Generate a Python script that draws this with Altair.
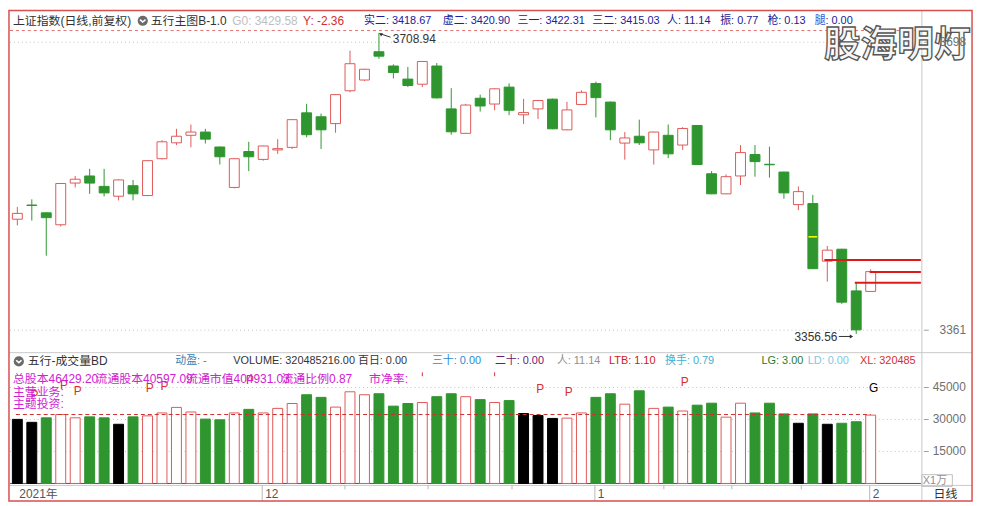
import altair as alt
import pandas as pd

# ---------------- data ----------------
open_price = [3490.9, 3507.5, 3498.4, 3484.4, 3533.2, 3541.5, 3529.3, 3517.8, 3530.1, 3518.6,
              3561.7, 3580.3, 3589.1, 3592.9, 3575.4, 3528.1, 3570.1, 3560.9, 3572.0, 3575.0,
              3615.4, 3610.8, 3602.8, 3641.2, 3653.8, 3686.9, 3670.2, 3654.9, 3648.9, 3670.2,
              3620.0, 3591.4, 3632.5, 3625.7, 3645.5, 3613.1, 3620.0, 3631.4, 3595.5, 3625.2,
              3649.7, 3628.0, 3580.0, 3588.0, 3572.0, 3589.1, 3577.7, 3600.6, 3544.1, 3520.6,
              3541.5, 3566.6, 3555.2, 3546.1, 3508.0, 3509.2, 3441.8, 3455.8, 3407.0, 3406.4]
close_price = [3497.7, 3507.0, 3492.7, 3532.7, 3537.7, 3533.2, 3521.7, 3536.9, 3520.6, 3559.4,
               3581.5, 3588.0, 3592.9, 3584.6, 3564.0, 3561.7, 3564.0, 3576.6, 3573.5, 3607.4,
               3589.8, 3595.5, 3636.7, 3672.9, 3666.4, 3681.7, 3662.6, 3647.4, 3675.5, 3632.9,
               3593.2, 3624.5, 3623.4, 3643.5, 3618.4, 3615.7, 3629.8, 3596.7, 3618.8, 3639.4,
               3633.2, 3595.5, 3586.0, 3580.3, 3592.9, 3567.4, 3597.1, 3554.9, 3520.6, 3540.7,
               3568.9, 3558.3, 3554.6, 3521.7, 3523.2, 3433.0, 3454.7, 3393.8, 3361.4, 3429.6]
high_price = [3505.3, 3514.1, 3498.9, 3533.3, 3541.5, 3549.8, 3549.8, 3537.5, 3536.9, 3560.0,
              3583.4, 3596.7, 3601.7, 3596.7, 3576.0, 3562.2, 3581.5, 3577.0, 3584.6, 3608.0,
              3626.0, 3614.6, 3637.3, 3688.1, 3667.0, 3708.94, 3672.1, 3669.1, 3676.0, 3673.7,
              3644.3, 3626.0, 3636.7, 3644.0, 3650.0, 3631.7, 3630.3, 3632.0, 3628.3, 3641.7,
              3652.0, 3628.5, 3592.9, 3607.4, 3593.3, 3601.7, 3598.6, 3601.1, 3547.2, 3543.4,
              3577.7, 3577.7, 3575.8, 3546.5, 3529.3, 3519.4, 3459.6, 3456.2, 3416.6, 3432.2]
low_price = [3483.6, 3489.3, 3448.2, 3482.4, 3528.1, 3520.6, 3517.5, 3512.9, 3512.9, 3517.8,
             3561.0, 3577.7, 3575.0, 3579.5, 3554.9, 3527.0, 3547.2, 3559.4, 3567.4, 3573.1,
             3586.8, 3573.1, 3592.1, 3639.4, 3652.7, 3678.6, 3655.7, 3645.5, 3645.5, 3632.1,
             3589.8, 3590.9, 3616.9, 3618.4, 3612.7, 3602.4, 3608.1, 3596.2, 3595.0, 3624.8,
             3610.0, 3583.4, 3560.6, 3577.7, 3554.9, 3562.4, 3572.0, 3554.5, 3520.2, 3520.2,
             3530.9, 3540.7, 3539.6, 3514.9, 3501.5, 3432.5, 3417.8, 3391.8, 3356.56, 3406.0]
volume_wan = [30050, 28670, 30780, 32330, 30780, 31240, 30780, 27760, 31240, 31700,
              33070, 35670, 33520, 30180, 29860, 33070, 34750, 33070, 35210, 37500,
              41610, 40380, 35810, 42990, 41610, 42070, 36260, 37500, 37960, 40700,
              42070, 40700, 39330, 37960, 38870, 32790, 31870, 30500, 30640, 33070,
              40380, 42070, 37180, 43440, 35210, 35810, 33980, 36720, 37640, 31100,
              37640, 33070, 37640, 32610, 28220, 32610, 27760, 28220, 28950, 32049]
low_volume_days = [0, 1, 7, 35, 36, 37, 54, 56]
volume_ma = 32330

price_ticks = [3361, 3698]
volume_ticks = [15000, 30000, 45000]

level_prices = [3443.3, 3429.2, 3416.6]
level_start_bar = [55.8, 58.93, 57.9]
yellow_bar, yellow_price = 55, 3470.3

date_bars = [0, 17, 40, 59]
date_labels = ["2021年", "12", "1", "2"]
week_bars = [22.65, 28.4, 34.2, 44.7, 49.4, 54.2]

p_bars = [1.19, 3.23, 4.18, 9.15, 10.17, 16.09, 36.15, 38.12, 46.15]
p_heights = [41600, 46190, 43440, 44800, 45730, 48470, 44360, 42990, 47560]
g_bar, g_height = 59.2, 44800
tick_bars = [28.0, 33.0]

header_texts = ["上证指数(日线,前复权)", "五行主图B-1.0", "G0: 3429.58", "Y: -2.36",
                "实二: 3418.67", "虚二: 3420.90", "三一: 3422.31", "三二: 3415.03",
                "人: 11.14", "振: 0.77", "枪: 0.13", "腿", ": 0.00"]
vol_header_texts = ["五行-成交量BD", "动盈: -", "VOLUME: 320485216.00 百日: 0.00", "三十: 0.00",
                    "二十: 0.00", "人: 11.14", "LTB: 1.10", "换手: 0.79", "LG: 3.00",
                    "LD: 0.00", "XL: 320485"]
info_texts = ["总股本46429.20", "流通股本40597.09", "流通市值404931.03", "流通比例0.87", "市净率:"]
info_rows = ["主营业务:", "主题投资:"]

# ---------------- layout ----------------
W, H = 974, 498
SX, SY = W / 982, H / 506
def X(v): return round(v * SX, 2)
def Y(v): return round(v * SY, 2)

FONT = "Liberation Sans, Noto Sans CJK SC"
CJK = "Noto Sans CJK SC"
RED = "#e05858"
GREEN = "#2f962f"
NAVY = "#20209a"
AXIS_GRAY = "#707070"

n = len(open_price)
direction = ["up" if c > o else "down" for o, c in zip(open_price, close_price)]
vkind = ["black" if i in low_volume_days else d for i, d in enumerate(direction)]
bars = pd.DataFrame({"i": list(range(n)), "o": open_price, "c": close_price,
                     "h": high_price, "l": low_price, "d": direction,
                     "v": volume_wan, "k": vkind, "z": [0] * n})

XMIN, XMAX = -0.51, 62.47
xs = alt.Scale(domain=[XMIN, XMAX], range=[X(2), X(928)], padding=0, zero=False, nice=False)
ps = alt.Scale(domain=[3361, 3698], range=[Y(328), Y(33)], zero=False, nice=False)
vs = alt.Scale(domain=[0, 45000], range=[Y(485), Y(386.7)], zero=False, nice=False)
fill_s = alt.Scale(domain=["up", "down", "black"], range=["#ffffff", GREEN, "#000000"])
stroke_s = alt.Scale(domain=["up", "down", "black"], range=[RED, GREEN, "#000000"])


def XQ(f):
    return alt.X(f, type="quantitative", scale=xs, axis=None)


def YP(f):
    return alt.Y(f, type="quantitative", scale=ps, axis=None)


def YV(f):
    return alt.Y(f, type="quantitative", scale=vs, axis=None)


one = pd.DataFrame({"a": [0]})


def label(txt, x, y, color="#333333", size=12, align="left", font=FONT, **kw):
    return alt.Chart(one).mark_text(text=txt, align=align, baseline="middle", fontSize=size,
                                    font=font, color=color, **kw).encode(
        x=alt.value(X(x)), y=alt.value(Y(y)))


def hline(x1, x2, y, color, width=1, dash=None):
    m = dict(color=color, strokeWidth=width)
    if dash:
        m["strokeDash"] = dash
    return alt.Chart(one).mark_rule(**m).encode(x=alt.value(X(x1)), x2=alt.value(X(x2)),
                                                y=alt.value(Y(y)))


def vline(x, y1, y2, color, width=1):
    return alt.Chart(one).mark_rule(color=color, strokeWidth=width).encode(
        x=alt.value(X(x)), y=alt.value(Y(y1)), y2=alt.value(Y(y2)))


def icon(x, y):
    c = alt.Chart(one).mark_point(shape="circle", filled=True, size=105, color="#6a6a6a",
                                  opacity=1).encode(x=alt.value(X(x)), y=alt.value(Y(y)))
    v = alt.Chart(one).mark_point(shape="M-1,-0.45L0,0.45L1,-0.45", filled=False, size=30,
                                  stroke="white", strokeWidth=1.6, opacity=1).encode(
        x=alt.value(X(x)), y=alt.value(Y(y)))
    return [c, v]


# ---------------- price panel ----------------
pt_df = pd.DataFrame({"p": price_ticks})
grid_p = alt.Chart(pt_df).mark_rule(color="#c4c4c4", strokeDash=[1, 3]).encode(
    x=alt.value(X(2)), x2=alt.value(X(928)), y=YP("p"))
tick_p = alt.Chart(pt_df).mark_rule(color="#a0a0a0").encode(
    x=alt.value(X(931)), x2=alt.value(X(936)), y=YP("p"))
lab_p = alt.Chart(pt_df).mark_text(align="left", baseline="middle", fontSize=12, font=FONT,
                                   color=AXIS_GRAY).encode(
    x=alt.value(X(947)), y=YP("p"), text=alt.Text("p:Q", format="d"))

wick = alt.Chart(bars).mark_rule(strokeWidth=1).encode(
    x=XQ("i"), y=YP("l"), y2=alt.Y2("h"),
    stroke=alt.Stroke("d:N", scale=stroke_s, legend=None))

body = alt.Chart(bars).mark_bar(size=10, strokeWidth=1).encode(
    x=XQ("i"), y=YP("o"), y2=alt.Y2("c"),
    fill=alt.Fill("d:N", scale=fill_s, legend=None),
    stroke=alt.Stroke("d:N", scale=stroke_s, legend=None))

ymark = alt.Chart(pd.DataFrame({"a": [yellow_bar - 0.3], "b": [yellow_bar + 0.3],
                                "p": [yellow_price]})).mark_rule(
    color="#ffff00", strokeWidth=1.5).encode(x=XQ("a"), x2=alt.X2("b"), y=YP("p"))

levels = alt.Chart(pd.DataFrame({"p": level_prices, "s": level_start_bar,
                                 "e": [XMAX] * len(level_prices)})).mark_rule(
    color="#dd1a1a", strokeWidth=2).encode(x=XQ("s"), x2=alt.X2("e"), y=YP("p"))

hi_i = int(pd.Series(high_price).idxmax())
lo_i = int(pd.Series(low_price).idxmin())
hi_df = pd.DataFrame({"i": [hi_i], "p": [high_price[hi_i]], "t": [f"{high_price[hi_i]:.2f}"]})
lo_df = pd.DataFrame({"i": [lo_i], "p": [low_price[lo_i]], "t": [f"{low_price[lo_i]:.2f}"]})

hi_text = alt.Chart(hi_df).mark_text(align="left", baseline="middle", dx=14, dy=6, fontSize=12,
                                      font=FONT, color="#333333").encode(
    x=XQ("i"), y=YP("p"), text="t:N")
hi_arrow = alt.Chart(pd.DataFrame({"a": [hi_i + 0.05], "b": [hi_i + 0.8], "p1": [high_price[hi_i] - 0.8],
                                   "p2": [high_price[hi_i] - 5.0]})).mark_rule(
    color="#333333", strokeWidth=1).encode(x=XQ("a"), x2=alt.X2("b"), y=YP("p1"), y2=alt.Y2("p2"))
hi_head = alt.Chart(pd.DataFrame({"a": [hi_i + 0.12], "p": [high_price[hi_i] - 1.3]})).mark_point(
    shape="triangle-up", angle=300, size=14, filled=True, color="#333333", opacity=1).encode(
    x=XQ("a"), y=YP("p"))

lo_text = alt.Chart(lo_df).mark_text(align="right", baseline="middle", dx=-19, dy=3, fontSize=12,
                                      font=FONT, color="#333333").encode(
    x=XQ("i"), y=YP("p"), text="t:N")
lo_arrow = alt.Chart(pd.DataFrame({"a": [lo_i - 1.2], "b": [lo_i - 0.33],
                                   "p": [low_price[lo_i] - 2.9]})).mark_rule(
    color="#333333", strokeWidth=1).encode(x=XQ("a"), x2=alt.X2("b"), y=YP("p"))
lo_head = alt.Chart(pd.DataFrame({"a": [lo_i - 0.33], "p": [low_price[lo_i] - 2.9]})).mark_point(
    shape="triangle-right", size=16, filled=True, color="#333333", opacity=1).encode(
    x=XQ("a"), y=YP("p"))

price_layer = alt.layer(grid_p, tick_p, wick, body, ymark, levels, hi_arrow, hi_head, hi_text,
                        lo_arrow, lo_head, lo_text)

# ---------------- volume panel ----------------
vt_df = pd.DataFrame({"v": volume_ticks})
grid_v = alt.Chart(vt_df).mark_rule(color="#c4c4c4", strokeDash=[1, 3]).encode(
    x=alt.value(X(2)), x2=alt.value(X(928)), y=YV("v"))
tick_v = alt.Chart(vt_df).mark_rule(color="#a0a0a0").encode(
    x=alt.value(X(931)), x2=alt.value(X(936)), y=YV("v"))
lab_v = alt.Chart(vt_df).mark_text(align="left", baseline="middle", fontSize=12, font=FONT,
                                   color=AXIS_GRAY).encode(
    x=alt.value(X(940)), y=YV("v"), text=alt.Text("v:Q", format="d"))

vbar = alt.Chart(bars).mark_bar(size=10, strokeWidth=1).encode(
    x=XQ("i"), y=YV("v"), y2=alt.Y2("z"),
    fill=alt.Fill("k:N", scale=fill_s, legend=None),
    stroke=alt.Stroke("k:N", scale=stroke_s, legend=None))

ma_line = alt.Chart(pd.DataFrame({"a": [-0.1], "b": [n - 1], "v": [volume_ma]})).mark_rule(
    color="#cc2e2e", strokeDash=[4, 3], strokeWidth=1).encode(x=XQ("a"), x2=alt.X2("b"), y=YV("v"))

p_mark = alt.Chart(pd.DataFrame({"i": p_bars, "v": p_heights, "t": ["P"] * len(p_bars)})).mark_text(
    fontSize=12, font=FONT, color="#d83030", baseline="middle").encode(x=XQ("i"), y=YV("v"), text="t:N")
g_mark = alt.Chart(pd.DataFrame({"i": [g_bar], "v": [g_height], "t": ["G"]})).mark_text(
    fontSize=12, font=FONT, color="#000000", baseline="middle").encode(x=XQ("i"), y=YV("v"), text="t:N")
small_ticks = alt.Chart(pd.DataFrame({"i": tick_bars, "a": [50300] * 2, "b": [52100] * 2})).mark_rule(
    color="#d83030", strokeWidth=1).encode(x=XQ("i"), y=YV("a"), y2=alt.Y2("b"))

vol_layer = alt.layer(grid_v, tick_v, lab_v, vbar, ma_line, small_ticks, p_mark, g_mark)

# ---------------- date row ----------------
date_df = pd.DataFrame({"i": date_bars, "t": date_labels})
date_text = alt.Chart(date_df).mark_text(align="left", baseline="middle", dx=2, fontSize=12,
                                         font=FONT, color="#555555").encode(
    x=XQ("i"), y=alt.value(Y(496)), text="t:N")
sep = alt.Chart(pd.DataFrame({"s": [b - 0.07 for b in date_bars[1:]]})).mark_rule(
    color="#b8b8b8").encode(x=XQ("s"), y=alt.value(Y(487)), y2=alt.value(Y(503)))
wk = alt.Chart(pd.DataFrame({"s": week_bars})).mark_rule(color="#b8b8b8").encode(
    x=XQ("s"), y=alt.value(Y(487)), y2=alt.value(Y(491)))

# ---------------- frame & texts ----------------
frame = [
    hline(2, 928, 21, "#e07070", 1, [3, 3]),
    hline(1, 980, 351, "#c8c8c8"),
    hline(1, 980, 487, "#c8c8c8"),
    hline(2, 928, 485, "#7a3a7a"),
    vline(929, 0, 503, "#c8c8c8"),
]

hx = [5, 145, 228, 300, 362, 442, 518, 594, 670, 724, 772, 820, 831]
hs = [12, 12, 12, 12, 11, 11, 11, 11, 11, 11, 11, 11, 11]
hc = ["#333333", "#333333", "#c0c0c0", "#d03030", NAVY, NAVY, NAVY, NAVY, NAVY, NAVY, NAVY,
      "#3355dd", NAVY]
header = [label(t, x, 11, c, size=s) for t, x, c, s in zip(header_texts, hx, hc, hs)]

vx = [20, 170, 229, 431, 495, 558, 611, 668, 766, 813, 866]
vc = ["#333333", "#3a80b0", "#333333", "#2a8ad0", "#6a2070", "#909090", "#d02020", "#40b0d0",
      "#2a7a2a", "#80c8e0", "#d03030"]
vs_size = [12] + [11] * 10
vheader = [label(t, x, 360, c, size=s) for t, x, c, s in zip(vol_header_texts, vx, vc, vs_size)]

MAG = "#d022d0"
ix = [5, 89, 181, 278, 367]
info = [label(t, x, 378, MAG) for t, x in zip(info_texts, ix)]
info += [label(t, 5, y, MAG) for t, y in zip(info_rows, [391, 404])]

right_col = [
    label("日线", 953, 496, "#333333", align="center"),
    label("X1万", 930, 482, "#909090", size=11),
    alt.Chart(one).mark_rect(fillOpacity=0, stroke="#c0c0c0", strokeWidth=1).encode(
        x=alt.value(X(929)), x2=alt.value(X(960)), y=alt.value(Y(476)), y2=alt.value(Y(488))),
]

watermark = alt.Chart(one).mark_text(text="股海明灯", align="center", baseline="middle", fontSize=37,
                                     font=CJK, fontWeight="bold", fill="#f6f6f6", stroke="#555555",
                                     strokeWidth=1.3).encode(x=alt.value(X(904)), y=alt.value(Y(37)))

border = alt.Chart(one).mark_rect(fillOpacity=0, stroke="#d85050", strokeWidth=1.5).encode(
    x=alt.value(X(1)), x2=alt.value(X(980)), y=alt.value(Y(0.5)), y2=alt.value(Y(503)))

chart = alt.layer(
    *frame, price_layer, vol_layer, date_text, sep, wk,
    *header, *icon(137, 11), *vheader, *icon(11, 360), *info, *right_col, watermark, lab_p, border
).resolve_scale(y="independent").properties(
    width=W, height=H, autosize=alt.AutoSizeParams(type="none"), padding=0, background="white"
).configure_view(stroke=None)

chart.save("out.html", embed_options={"renderer": "svg", "actions": False})
